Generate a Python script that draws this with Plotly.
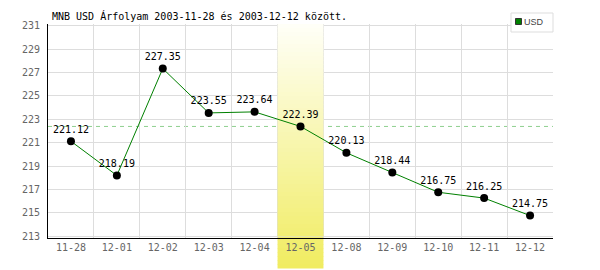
import plotly.graph_objects as go

# ---- data ----
dates = ["11-28", "12-01", "12-02", "12-03", "12-04", "12-05",
         "12-08", "12-09", "12-10", "12-11", "12-12"]
usd = [221.12, 218.19, 227.35, 223.55, 223.64, 222.39,
       220.13, 218.44, 216.75, 216.25, 214.75]
highlight_date = "12-05"
y_ticks = list(range(213, 232, 2))
title_text = "MNB USD Árfolyam 2003-11-28 és 2003-12-12 között."
legend_name = "USD"

# ---- geometry ----
W, H = 600, 270
ML, MR, MT, MB = 48, 47, 24, 32
PW, PH = W - ML - MR, H - MT - MB
Y_LO, Y_HI = 212.83, 231.17

MONO = "DejaVu Sans Mono"

fig = go.Figure()
fig.add_trace(go.Scatter(
    x=dates, y=usd, mode="lines+markers+text",
    line=dict(color="#008000", width=1),
    marker=dict(color="black", size=8),
    text=[f"{v:.2f}" for v in usd], textposition="top center",
    textfont=dict(family=MONO, size=10, color="black"),
    cliponaxis=False, showlegend=False, name=legend_name,
))

shapes = []
hi = dates.index(highlight_date)
hv = usd[hi]
# reference (dashed) line at the highlighted day's rate
shapes.append(dict(type="line", xref="paper", yref="y", x0=0, x1=1, y0=hv, y1=hv,
                   line=dict(color="#8fd08f", width=1, dash="4px,4px"), layer="between"))
# gradient highlight band
top_px, bot_px = 24, 268
n = 61
c0 = (255, 255, 248)
c1 = (240, 236, 96)
step = (bot_px - top_px) / n
for i in range(n):
    p0 = top_px + i * step
    p1 = p0 + step + 0.6
    t = (i + 0.5) / n
    col = "rgb(%d,%d,%d)" % tuple(round(a + (b - a) * t) for a, b in zip(c0, c1))
    if p1 <= MT + PH + 0.6:
        y0 = Y_LO + (MT + PH - p1) / PH * (Y_HI - Y_LO)
        y1 = Y_LO + (MT + PH - p0) / PH * (Y_HI - Y_LO)
        shapes.append(dict(type="rect", xref="x", yref="y", x0=hi - 0.5, x1=hi + 0.5,
                           y0=y0, y1=y1, fillcolor=col, line=dict(width=0), layer="between"))
    else:
        shapes.append(dict(type="rect", xref="paper", yref="paper",
                           x0=hi / len(dates), x1=(hi + 1) / len(dates),
                           y0=(MT + PH - p1) / PH, y1=(MT + PH - p0) / PH,
                           fillcolor=col, line=dict(width=0), layer="below"))

# manual legend
def px_x(p):
    return (p - ML) / PW

def px_y(p):
    return (MT + PH - p) / PH

shapes.append(dict(type="rect", xref="paper", yref="paper",
                   x0=px_x(511), x1=px_x(553), y0=px_y(32), y1=px_y(13),
                   fillcolor="white", line=dict(color="#dddddd", width=1), layer="above"))
shapes.append(dict(type="rect", xref="paper", yref="paper",
                   x0=px_x(515.5), x1=px_x(521.5), y0=px_y(24.5), y1=px_y(18.5),
                   fillcolor="#008000", line=dict(color="#333333", width=1), layer="above"))

fig.update_layout(
    width=W, height=H,
    margin=dict(l=ML, r=MR, t=MT, b=MB),
    paper_bgcolor="white", plot_bgcolor="white",
    title=dict(text=title_text, x=52 / W, xanchor="left", xref="container",
               y=1 - 16 / H, yanchor="middle", yref="container",
               font=dict(family=MONO, size=10, color="black")),
    shapes=shapes,
    annotations=[dict(text=legend_name, xref="paper", yref="paper",
                      x=px_x(522), y=px_y(22), xanchor="left", yanchor="middle",
                      showarrow=False, font=dict(family="Liberation Sans", size=9, color="#444444"))],
    xaxis=dict(type="category", categoryorder="array", categoryarray=dates,
               range=[-0.5, len(dates) - 0.5], tickson="boundaries",
               showgrid=True, gridcolor="#dddddd", gridwidth=1,
               showline=True, linecolor="black", linewidth=1,
               ticks="outside", ticklen=3, tickcolor="rgba(0,0,0,0)",
               tickfont=dict(family=MONO, size=10, color="#666666"), fixedrange=True),
    yaxis=dict(range=[Y_LO, Y_HI], tickvals=y_ticks,
               showgrid=True, gridcolor="#dddddd", gridwidth=1, zeroline=False,
               showline=True, linecolor="black", linewidth=1,
               ticks="outside", ticklen=5, tickcolor="rgba(0,0,0,0)",
               tickfont=dict(family=MONO, size=10, color="#666666"), fixedrange=True),
    showlegend=False,
)

fig.write_html("out.html")
